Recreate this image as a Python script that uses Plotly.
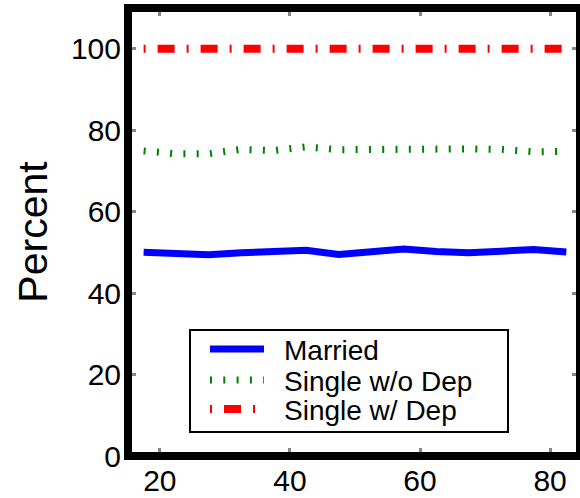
import plotly.graph_objects as go

ages = [17.5, 22.5, 27.5, 32.5, 37.5, 42.5, 47.5, 52.5, 57.5, 62.5, 67.5, 72.5, 77.5, 82.5]
married = [50.0, 49.6, 49.4, 49.9, 50.4, 50.5, 49.5, 50.3, 50.8, 50.2, 49.9, 50.3, 50.7, 50.1]
single_no_dep = [74.9, 74.2, 74.2, 75.3, 75.0, 75.9, 75.2, 75.3, 75.2, 75.6, 75.4, 75.3, 74.7, 74.8]
single_dep = [100, 100, 100, 100, 100, 100, 100, 100, 100, 100, 100, 100, 100, 100]

series_names = ["Married", "Single w/o Dep", "Single w/ Dep"]
x_ticks = [20, 40, 60, 80]
y_ticks = [0, 20, 40, 60, 80, 100]

FONT = "Liberation Sans, Arial, sans-serif"
styles = [
    dict(color="#0000FF", width=7),
    dict(color="#008000", width=7, dash="2px,11.3px"),
    dict(color="#FF0000", width=8, dash="2px,12px,17px,12px"),
]

fig = go.Figure()
for name, vals, st in zip(series_names, [married, single_no_dep, single_dep], styles):
    fig.add_trace(go.Scatter(x=ages, y=vals, mode="lines", name=name,
                             line=st, showlegend=False))

# plot area in pixels: x 128..580, y 8..456
def px(x):
    return (x - 128) / 452.0

def py(y):
    return (456 - y) / 448.0

shapes = [dict(type="rect", xref="paper", yref="paper",
               x0=px(190), x1=px(508), y0=py(432), y1=py(330),
               line=dict(color="black", width=2), fillcolor="white", layer="above")]
annotations = []
rows = [349, 380, 409]
for name, st, r in zip(series_names, styles, rows):
    shapes.append(dict(type="line", xref="paper", yref="paper",
                       x0=px(210), x1=px(264), y0=py(r), y1=py(r),
                       line=st, layer="above"))
    annotations.append(dict(xref="paper", yref="paper", x=px(282), y=py(r + 1),
                            xanchor="left", yanchor="middle", showarrow=False,
                            text=name, font=dict(size=28, family=FONT, color="black")))

shapes.append(dict(type="rect", xref="paper", yref="paper", x0=0, x1=1, y0=0, y1=1,
                   line=dict(color="black", width=8), layer="above"))

fig.update_layout(
    width=580, height=498,
    margin=dict(l=128, r=0, t=8, b=42),
    paper_bgcolor="white", plot_bgcolor="white",
    font=dict(family=FONT, color="black"),
    showlegend=False,
    shapes=shapes,
    annotations=annotations,
)
fig.update_xaxes(range=[15.1, 84.6], tickvals=x_ticks, ticks="inside", ticklen=8,
                 tickwidth=3, tickcolor="#888888", showgrid=False, zeroline=False,
                 showline=False, mirror="ticks", tickfont=dict(size=30, family=FONT),
                 ticklabelstandoff=4)
fig.update_yaxes(range=[0, 110], tickvals=y_ticks, ticks="inside", ticklen=8,
                 tickwidth=3, tickcolor="#888888", showgrid=False, zeroline=False,
                 showline=False, mirror="ticks", tickfont=dict(size=30, family=FONT),
                 ticklabelstandoff=6,
                 title=dict(text="Percent", font=dict(size=41, family=FONT), standoff=10))

fig.write_html("out.html")
